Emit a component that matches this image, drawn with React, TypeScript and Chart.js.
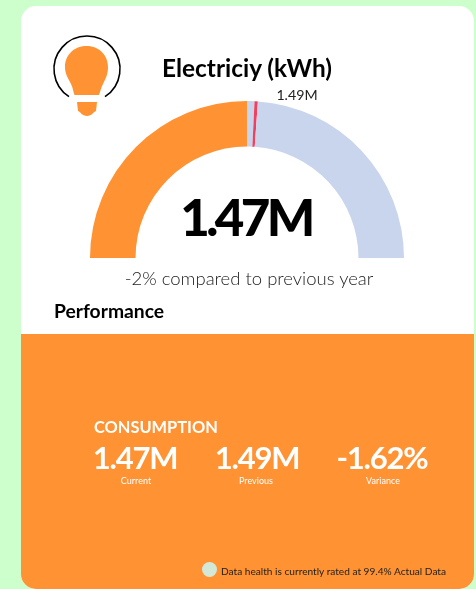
import React, { useEffect, useRef } from "react";
import { Chart, registerables } from "chart.js";

Chart.register(...registerables);

const segmentNames = ["Current", "Gap", "Previous", "Remaining"];
const segmentValues = [1.47, 0.045, 0.02, 1.405];
const segmentColors = ["#FF9233", "#C8D5EC", "#F0405F", "#C8D5EC"];

const FONT = "Lato, 'Noto Sans', sans-serif";

function T(props: { x: number; y: number; size: number; weight?: number; color?: string; text: string; center?: boolean; spacing?: number }) {
  const { x, y, size, weight = 400, color = "#000", text, center, spacing = 0 } = props;
  return (
    <div
      style={{
        position: "absolute",
        left: x,
        top: y,
        transform: center ? "translate(-50%, -50%)" : "translateY(-50%)",
        fontFamily: FONT,
        fontSize: size,
        fontWeight: weight,
        color,
        whiteSpace: "nowrap",
        lineHeight: 1,
        letterSpacing: spacing,
      }}
    >
      {text}
    </div>
  );
}

export default function App() {
  const ref = useRef<HTMLCanvasElement>(null);
  useEffect(() => {
    if (!ref.current) return;
    const chart = new Chart(ref.current, {
      type: "doughnut",
      data: {
        labels: segmentNames,
        datasets: [{ data: segmentValues, backgroundColor: segmentColors, borderWidth: 0 }],
      },
      options: {
        animation: false,
        responsive: false,
        rotation: -90,
        circumference: 180,
        cutout: "71%",
        layout: { padding: 0 },
        plugins: { legend: { display: false }, tooltip: { enabled: false } },
      },
    });
    return () => chart.destroy();
  }, []);

  return (
    <div style={{ position: "fixed", inset: 0, background: "#CCFFCC", overflow: "hidden" }}>
      <div
        style={{
          position: "absolute",
          left: 21,
          top: 6,
          width: 453,
          height: 583,
          background: "#fff",
          borderRadius: 15,
          overflow: "hidden",
        }}
      >
        <div style={{ position: "absolute", left: 0, top: 328, width: 453, height: 255, background: "#FF9233" }} />
      </div>
      <canvas ref={ref} width={314} height={157} style={{ position: "absolute", left: 90, top: 101, width: 314, height: 157, display: "block" }} />
      <svg width="476" height="589" viewBox="0 0 476 589" style={{ position: "absolute", left: 0, top: 0 }}>
        <path d="M69 96.7 A33 33 0 1 1 105 96.7" fill="none" stroke="#000" strokeWidth="1.6" />
        <path
          d="M86.5 46 C73 46 65 56 65 67 C65 74 68 78 71 84 C73 88 73 91 74.5 95 L99 95 C100.5 91 101 88 103 84 C106 78 108 74 108 67 C108 56 100 46 86.5 46 Z"
          fill="#FF9233"
        />
        <path d="M77 102 L97 102 L96 111 C93 112 92 116 87 116 C82 116 81 112 78 111 Z" fill="#FF9233" />
      </svg>
      <T x={247} y={68} size={24.4} weight={700} text="Electriciy (kWh)" center />
      <T x={297} y={95} size={14.2} color="#222" text="1.49M" center />
      <T x={246} y={216} size={51} weight={900} text="1.47M" center spacing={-3.6} />
      <T x={249} y={278} size={18.5} weight={300} color="#222" text="-2% compared to previous year" center />
      <T x={54} y={311} size={19.3} weight={700} text="Performance" />
      <T x={94} y={427} size={16.4} weight={700} color="#fff" text="CONSUMPTION" />
      <T x={135} y={457} size={31} weight={700} color="#fff" text="1.47M" center spacing={-1.2} />
      <T x={257} y={457} size={31} weight={700} color="#fff" text="1.49M" center spacing={-1.2} />
      <T x={382} y={457} size={31} weight={700} color="#fff" text="-1.62%" center spacing={-1.2} />
      <T x={136} y={480} size={9} color="#fff" text="Current" center />
      <T x={256} y={480} size={9} color="#fff" text="Previous" center />
      <T x={383} y={480} size={9} color="#fff" text="Variance" center />
      <div style={{ position: "absolute", left: 202, top: 562, width: 15, height: 15, borderRadius: "50%", background: "#D4E8D8" }} />
      <T x={221} y={571} size={10.15} color="#222" text="Data health is currently rated at 99.4% Actual Data" />
    </div>
  );
}
